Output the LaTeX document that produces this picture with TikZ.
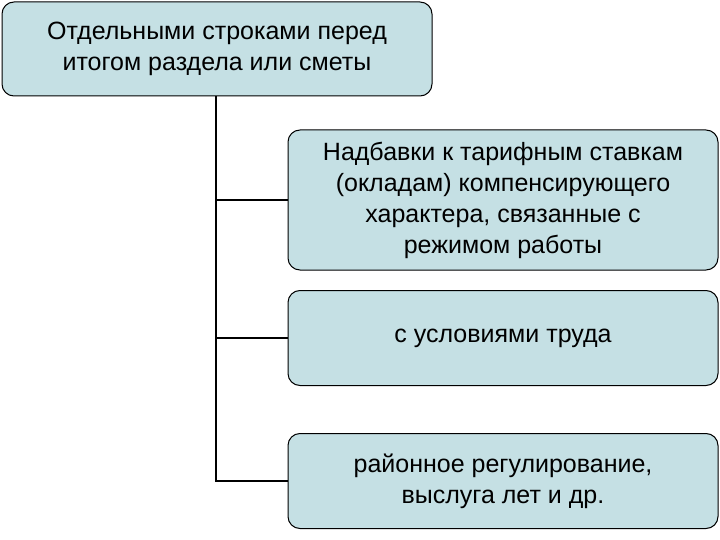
\documentclass[tikz,border=0pt]{standalone}
\usepackage{fontspec}
\setmainfont{Liberation Sans}
\begin{document}
\begin{tikzpicture}[x=1pt,y=-1pt,
  box/.style={draw=black,line width=1pt,fill=boxfill,rounded corners=12pt,align=center,inner sep=0pt,font=\fontsize{25}{31}\selectfont},
  conn/.style={line width=1.6pt}]
\definecolor{boxfill}{HTML}{C5E0E4}
\useasboundingbox (0,0) rectangle (720,540);
\node[box,minimum width=430pt,minimum height=94pt] (top) at (217,49) {Отдельными строками перед\\итогом раздела или сметы};
\node[box,minimum width=430pt,minimum height=140pt] (b1) at (503,200) {Надбавки к тарифным ставкам\\(окладам) компенсирующего\\характера, связанные с\\режимом работы};
\node[box,minimum width=430pt,minimum height=95pt] (b2) at (503,338) {с условиями труда};
\node[box,minimum width=430pt,minimum height=95pt] (b3) at (503,481) {районное регулирование,\\выслуга лет и др.};
\coordinate (c1) at (216,200);
\coordinate (c2) at (216,338);
\coordinate (c3) at (216,481);
\draw[conn] (top.south -| c1) -- (c3) -- (b3.west);
\draw[conn] (c1) -- (b1.west);
\draw[conn] (c2) -- (b2.west);
\end{tikzpicture}
\end{document}
